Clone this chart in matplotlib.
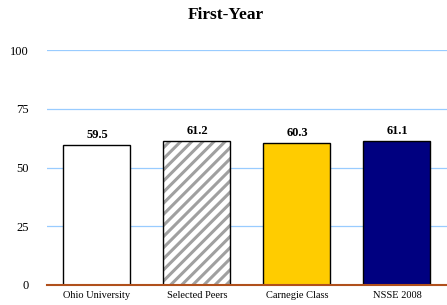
import matplotlib
matplotlib.use("Agg")
import matplotlib.pyplot as plt

categories = ["Ohio University", "Selected Peers", "Carnegie Class", "NSSE 2008"]
values = [59.5, 61.2, 60.3, 61.1]
y_ticks = [0, 25, 50, 75, 100]

plt.rcParams["font.family"] = ["Liberation Serif", "DejaVu Serif"]
plt.rcParams["hatch.linewidth"] = 2.2

fig = plt.figure(figsize=(4.47, 3.05), dpi=100)
ax = fig.add_axes([0.105, 0.0656, 0.895, 0.77])

x = list(range(len(categories)))
fills = ["white", "white", "#ffcc00", "#000080"]
hatches = [None, "///", None, None]

for xi, v, fc, h in zip(x, values, fills, hatches):
    if h:
        ax.bar(xi, v, width=0.67, color="white", edgecolor="#a0a0a0",
               hatch=h, linewidth=0, zorder=3)
    ax.bar(xi, v, width=0.67, color=fc if not h else "none",
           edgecolor="black", linewidth=1.0, zorder=4)
    ax.text(xi, v + 2, f"{v:.1f}", ha="center", va="bottom",
            fontsize=9, fontweight="bold", zorder=5)

ax.set_xlim(-0.5, 3.5)
ax.set_ylim(0, 100)
ax.set_yticks(y_ticks)
ax.set_yticklabels([str(t) for t in y_ticks], fontsize=9)
ax.set_xticks(x)
ax.set_xticklabels(categories, fontsize=7.5)
ax.tick_params(length=0)
ax.tick_params(axis="y", pad=13)
ax.tick_params(axis="x", pad=4)

ax.grid(axis="y", color="#99ccff", linewidth=0.9, zorder=0)
ax.axhline(0, color="#b0501c", linewidth=1.5, zorder=6, clip_on=False)
for s in ax.spines.values():
    s.set_visible(False)

fig.text(0.505, 0.952, "First-Year", ha="center", va="center",
         fontsize=12.5, fontweight="bold")

fig.savefig("out.png", dpi=100)
